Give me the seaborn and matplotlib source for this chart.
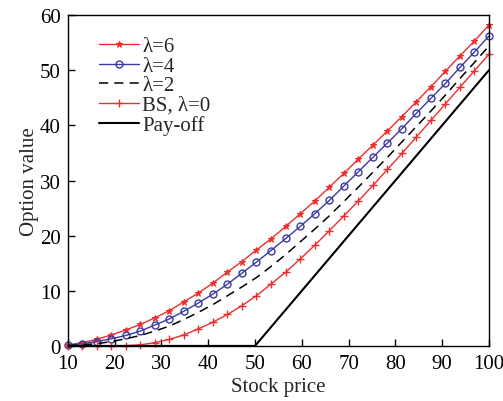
import numpy as np
import pandas as pd
import matplotlib
matplotlib.use("Agg")
import matplotlib.pyplot as plt
import seaborn as sns

sns.set_style("ticks")
plt.rcParams['font.family'] = ['Liberation Serif', 'DejaVu Serif']

# stock prices at the marker positions
stock = [10.0, 13.1, 16.2, 19.3, 22.4, 25.5, 28.6, 31.7, 34.8, 37.9,
         41.0, 44.1, 47.2, 50.3, 53.4, 56.6, 59.7, 62.8, 65.9, 69.0,
         72.1, 75.2, 78.3, 81.4, 84.5, 87.6, 90.7, 93.8, 96.9, 100.0]

lam6 = [0.2, 0.6, 1.2, 2.0, 2.9, 3.9, 5.1, 6.4, 8.0, 9.6,
        11.4, 13.4, 15.3, 17.4, 19.4, 21.7, 24.0, 26.3, 28.8, 31.3,
        33.9, 36.4, 39.0, 41.6, 44.3, 47.0, 49.8, 52.6, 55.3, 58.2]
lam4 = [0.1, 0.4, 0.8, 1.3, 1.9, 2.7, 3.8, 4.9, 6.3, 7.8,
        9.4, 11.2, 13.2, 15.2, 17.3, 19.5, 21.7, 24.0, 26.4, 29.0,
        31.6, 34.2, 36.8, 39.4, 42.2, 44.9, 47.6, 50.5, 53.3, 56.2]
lam2 = [0.05, 0.2, 0.4, 0.8, 1.3, 1.9, 2.7, 3.6, 4.8, 6.1,
        7.5, 9.1, 10.7, 12.4, 14.4, 16.6, 18.9, 21.2, 23.6, 26.2,
        28.8, 31.5, 34.2, 37.0, 39.8, 42.6, 45.5, 48.5, 51.4, 54.4]
bs = [0.0, 0.0, 0.0, 0.0, 0.05, 0.2, 0.6, 1.2, 2.0, 3.1,
      4.3, 5.7, 7.3, 9.1, 11.2, 13.4, 15.8, 18.3, 20.9, 23.6,
      26.3, 29.1, 32.0, 34.9, 37.9, 40.9, 43.9, 46.9, 49.9, 52.9]

payoff_s = [10, 50, 100]
payoff_v = [0, 0, 50]

df = pd.DataFrame({'S': stock, 'l6': lam6, 'l4': lam4, 'l2': lam2, 'bs': bs})
pay = pd.DataFrame({'S': payoff_s, 'V': payoff_v})

red = '#ee2d2d'
blue = '#3a3aa0'

fig, ax = plt.subplots(figsize=(5.03, 4.02), dpi=100)
fig.subplots_adjust(left=0.135, right=0.972, bottom=0.137, top=0.960)

sns.lineplot(data=df, x='S', y='l6', ax=ax, color=red, lw=1, marker='*',
             markersize=5, markeredgecolor=red, label='λ=6', clip_on=False)
sns.lineplot(data=df, x='S', y='l4', ax=ax, color=blue, lw=1, marker='o',
             markersize=5, markerfacecolor='none', markeredgecolor=blue,
             markeredgewidth=1, label='λ=4', clip_on=False)
sns.lineplot(data=df, x='S', y='l2', ax=ax, color='black', lw=1.1,
             linestyle=(0, (6, 4)), label='λ=2')
sns.lineplot(data=df, x='S', y='bs', ax=ax, color=red, lw=1, marker='+',
             markersize=5.5, markeredgecolor=red, markeredgewidth=1,
             label='BS, λ=0', clip_on=False)
sns.lineplot(data=pay, x='S', y='V', ax=ax, color='black', lw=1.5,
             label='Pay-off')

ax.set_xlim(10, 100)
ax.set_ylim(0, 60)
ax.set_xticks(range(10, 101, 10))
ax.set_yticks(range(0, 61, 10))
ax.tick_params(direction='in', labelsize=15, length=5, width=1,
               colors='black')
ax.tick_params(axis='x', pad=6)
ax.tick_params(axis='y', pad=5)
for sp in ax.spines.values():
    sp.set_visible(True)
    sp.set_linewidth(1)
    sp.set_color('black')

ax.set_xlabel('Stock price', fontsize=15, labelpad=3)
ax.set_ylabel('Option value', fontsize=15, labelpad=1)

ax.legend(loc='upper left', bbox_to_anchor=(0.055, 0.96), frameon=False,
          fontsize=15, handlelength=1.9, handletextpad=0.15,
          labelspacing=0.0, borderaxespad=0)

fig.savefig('out.png', dpi=100)
